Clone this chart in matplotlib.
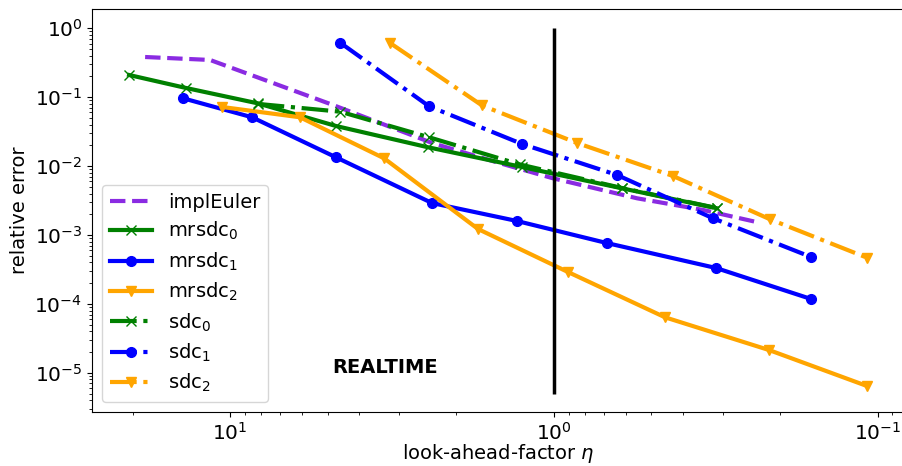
import matplotlib
matplotlib.use("Agg")
import matplotlib.pyplot as plt

# ---- data ----
impl_x = [18.30, 11.53, 4.807, 2.361, 1.466, 1.006, 0.5534, 0.3461, 0.239]
impl_y = [0.383, 0.347, 0.0770, 0.0214, 0.0110, 0.00665, 0.00341, 0.00231, 0.00156]

mrsdc0_x = [20.51, 13.68, 8.22, 4.71, 2.446, 1.254, 0.616, 0.3133]
mrsdc0_y = [0.210, 0.136, 0.0815, 0.0382, 0.01875, 0.0097, 0.00476, 0.00244]

mrsdc1_x = [13.97, 8.55, 4.71, 2.378, 1.299, 0.6865, 0.3155, 0.1606]
mrsdc1_y = [0.0964, 0.0511, 0.01342, 0.00291, 0.001596, 7.65e-4, 3.32e-4, 1.18e-4]

mrsdc2_x = [10.58, 6.08, 3.345, 1.715, 0.904, 0.4535, 0.2164, 0.1078]
mrsdc2_y = [0.0721, 0.0511, 0.01298, 0.001222, 2.90e-4, 6.39e-5, 2.14e-5, 6.43e-6]

sdc0_x = [8.22, 4.57, 2.429, 1.272, 0.616, 0.3133]
sdc0_y = [0.0800, 0.0616, 0.0262, 0.01055, 0.00481, 0.00246]

sdc1_x = [4.57, 2.429, 1.254, 0.638, 0.3224, 0.1606]
sdc1_y = [0.618, 0.0738, 0.02094, 0.00743, 0.001748, 4.80e-4]

sdc2_x = [3.206, 1.666, 0.848, 0.4284, 0.2149, 0.1078]
sdc2_y = [0.612, 0.0758, 0.02164, 0.00718, 0.00169, 4.68e-4]

realtime_x = 1.0
realtime_ymin, realtime_ymax = 5e-6, 1.0

# ---- figure ----
fig = plt.figure(figsize=(9.02, 4.66), dpi=100)
ax = fig.add_axes([92/902, 54/466, 813/902, 403/466])

lw = 3
ms = 7
ax.plot(impl_x, impl_y, '--', color='blueviolet', lw=lw, label='implEuler')
ax.plot(mrsdc0_x, mrsdc0_y, '-x', color='green', lw=lw, ms=ms, label='mrsdc$_0$')
ax.plot(mrsdc1_x, mrsdc1_y, '-o', color='blue', lw=lw, ms=ms, label='mrsdc$_1$')
ax.plot(mrsdc2_x, mrsdc2_y, '-v', color='orange', lw=lw, ms=ms, label='mrsdc$_2$')
ax.plot(sdc0_x, sdc0_y, '-.x', color='green', lw=lw, ms=ms, label='sdc$_0$')
ax.plot(sdc1_x, sdc1_y, '-.o', color='blue', lw=lw, ms=ms, label='sdc$_1$')
ax.plot(sdc2_x, sdc2_y, '-.v', color='orange', lw=lw, ms=ms, label='sdc$_2$')

ax.vlines(realtime_x, realtime_ymin, realtime_ymax, color='black', lw=2.5)
ax.text(3.32, 1.21e-5, 'REALTIME', fontsize=14, fontweight='bold',
        ha='center', va='center')

ax.set_xscale('log')
ax.set_yscale('log')
ax.set_xlim(26.7, 0.0823)
ax.set_ylim(2.70e-6, 1.905)

ax.tick_params(labelsize=14.5)
ax.set_xlabel(r'look-ahead-factor $\eta$', fontsize=14, labelpad=-1)
ax.set_ylabel('relative error', fontsize=14)
ax.legend(loc='lower left', fontsize=14, labelspacing=0.42, handlelength=2.2)

fig.savefig('out.png', dpi=100)
